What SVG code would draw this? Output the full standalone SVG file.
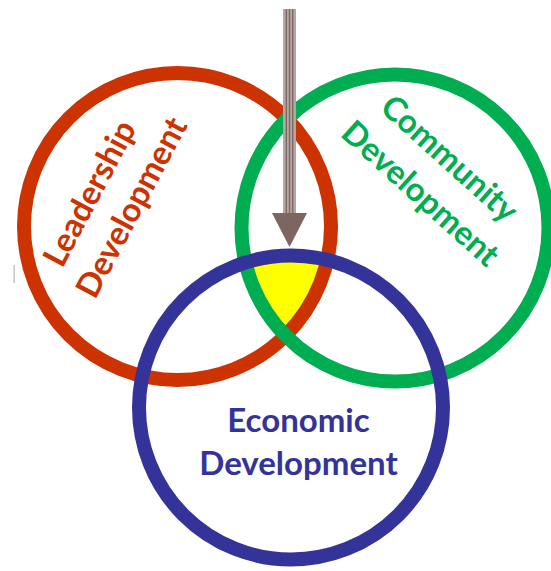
<svg xmlns="http://www.w3.org/2000/svg" width="551" height="571" viewBox="0 0 551 571">
<style>
.ring{fill:none;stroke-width:14}
.lbl{font-family:Lato,"Liberation Sans",sans-serif;font-weight:700;font-size:33px;text-anchor:middle}
</style>
<defs>
<clipPath id="cr"><circle cx="177.5" cy="226.5" r="153.5"/></clipPath>
<clipPath id="cg"><circle cx="395" cy="228" r="153.5"/></clipPath>
</defs>
<rect width="551" height="571" fill="#ffffff"/>
<line x1="14.2" y1="265" x2="14.2" y2="283" stroke="#c8c8c8" stroke-width="1.6"/>
<g clip-path="url(#cr)"><g clip-path="url(#cg)"><circle cx="291" cy="407.5" r="152" fill="#ffff00"/></g></g>
<g id="leadership">
<circle class="ring" cx="177.5" cy="226.5" r="153.5" stroke="#cc3300"/>
<g transform="translate(89,193) rotate(-62)"><text class="lbl" x="0" y="12" fill="#cc3300">Leadership</text></g>
<g transform="translate(131,207) rotate(-62)"><text class="lbl" x="0" y="12" fill="#cc3300">Development</text></g>
</g>
<g id="community">
<circle class="ring" cx="395" cy="228" r="153.5" stroke="#00ad50"/>
<g transform="translate(450,158) rotate(42)"><text class="lbl" x="0" y="12" fill="#00ad50">Community</text></g>
<g transform="translate(421,193) rotate(42)"><text class="lbl" x="0" y="12" fill="#00ad50">Development</text></g>
</g>
<g id="economic">
<circle class="ring" cx="291" cy="407.5" r="152" stroke="#333399"/>
<text class="lbl" x="298.5" y="432" fill="#333399">Economic</text>
<text class="lbl" x="298.5" y="475" fill="#333399">Development</text>
</g>
<g id="connectors">
<rect x="283" y="9" width="13" height="205" fill="#b5a6a2"/>
<line x1="286.3" y1="9" x2="286.3" y2="214" stroke="#7a6662" stroke-width="1.3"/>
<line x1="289.5" y1="9" x2="289.5" y2="214" stroke="#7a6662" stroke-width="1.3"/>
<line x1="292.7" y1="9" x2="292.7" y2="214" stroke="#7a6662" stroke-width="1.3"/>
<polygon points="272,213 307,213 289.5,247" fill="#7d6560"/>
</g>
</svg>
